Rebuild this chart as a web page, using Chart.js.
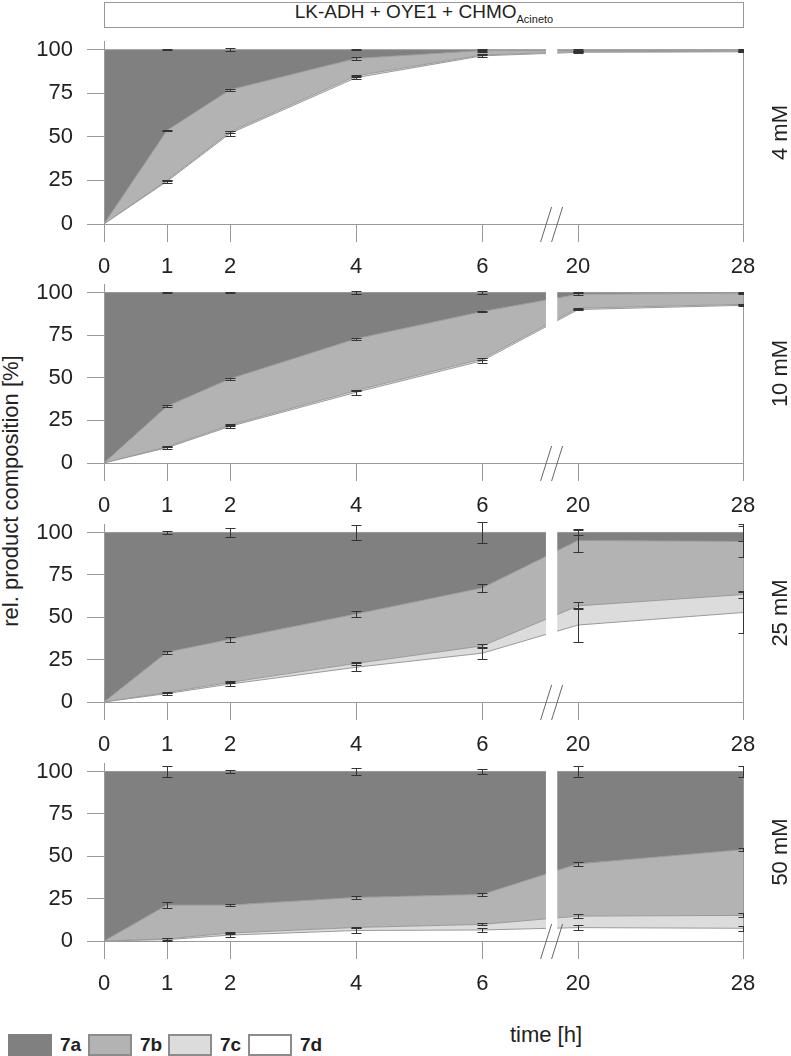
<!DOCTYPE html>
<html>
<head>
<meta charset="utf-8">
<title>LK-ADH + OYE1 + CHMO</title>
<script src="https://cdn.jsdelivr.net/npm/chart.js@4.4.1/dist/chart.umd.min.js"></script>
<style>
body { margin: 0; background: #fff; font-family: "Liberation Sans", Arial, sans-serif; color: #222; }
#wrap { position: relative; width: 791px; height: 1056px; overflow: hidden; }
#wrap canvas { position: absolute; left: 0; }
.titulo { position: absolute; left: 104px; top: 2px; width: 638px; height: 24px; border: 1px solid #999;
  text-align: center; font-size: 19px; line-height: 18px; white-space: nowrap; }
.titulo span { font-size: 11px; position: relative; top: 5px; }
.eixoY { position: absolute; left: 11px; top: 491px; transform: translate(-50%, -50%) rotate(-90deg);
  font-size: 22px; white-space: nowrap; }
.eixoX { position: absolute; left: 546px; top: 1022px; transform: translateX(-50%); font-size: 22px; line-height: 26px; }
.sw { position: absolute; top: 1034px; width: 40px; height: 18px; border: 2px solid #8c8c8c; }
.lg { position: absolute; top: 1034px; font-size: 19px; font-weight: bold; line-height: 22px; }
</style>
</head>
<body>
<div id="wrap">
  <div class="titulo">LK-ADH + OYE1 + CHMO<span>Acineto</span></div>
  <div class="eixoY">rel. product composition [%]</div>
  <div class="eixoX">time [h]</div>
</div>
<script>
// sampling times and labels
var times = [0, 1, 2, 4, 6, 20, 28];
var timeLabels = ['0', '1', '2', '4', '6', '20', '28'];
var yTicks = [0, 25, 50, 75, 100];
var especies = ['7a', '7b', '7c', '7d'];
var concentracoes = ['4 mM', '10 mM', '25 mM', '50 mM'];

// 4 mM  (% of each product)
var a4 = [100, 46.3, 23.0, 5.0, 0.5, 0.5, 0.3];
var b4 = [0, 28.6, 24.2, 10.0, 2.5, 0.7, 0.6];
var c4 = [0, 0.6, 0.8, 1.0, 0.5, 0.3, 0.3];
var d4 = [0, 24.5, 52.0, 84.0, 96.5, 98.5, 98.8];
var a4err = [0, 0.3, 1.0, 0.3, 0.5, 0.5, 0.3];
var b4err = [0, 0.4, 0.6, 1.0, 0.6, 0.3, 0.3];
var c4err = [0, 0.3, 0.4, 0.5, 0.3, 0.2, 0.2];
var d4err = [0, 0.7, 1.5, 1.0, 0.8, 0.4, 0.3];

// 10 mM
var a10 = [100, 66.7, 50.6, 27.1, 11.2, 1.0, 0.4];
var b10 = [0, 23.8, 27.2, 30.4, 27.8, 8.2, 6.5];
var c10 = [0, 0.5, 0.7, 1.0, 1.0, 0.8, 0.6];
var d10 = [0, 9.0, 21.5, 41.5, 60.0, 90.0, 92.5];
var a10err = [0, 0.3, 0.5, 1.0, 0.7, 0.5, 0.4];
var b10err = [0, 0.7, 0.5, 0.5, 0.3, 0.5, 0.4];
var c10err = [0, 0.4, 0.5, 0.5, 0.5, 0.3, 0.3];
var d10err = [0, 0.5, 0.8, 1.5, 1.5, 0.5, 0.5];

// 25 mM
var a25 = [100, 70.6, 63.0, 48.1, 32.7, 4.7, 5.3];
var b25 = [0, 23.8, 25.4, 29.1, 34.2, 38.6, 31.3];
var c25 = [0, 0.6, 1.0, 2.3, 4.3, 11.3, 10.6];
var d25 = [0, 5.0, 10.6, 20.5, 28.8, 45.4, 52.8];
var a25err = [0, 0.7, 2.5, 4.6, 6.0, 1.5, 5.0];
var b25err = [0, 0.8, 1.5, 2.0, 2.3, 6.8, 9.0];
var c25err = [0, 0.4, 0.6, 1.0, 1.0, 2.0, 2.0];
var d25err = [0, 0.6, 1.0, 2.5, 3.5, 10.0, 12.0];

// 50 mM
var a50 = [100, 78.8, 78.8, 74.3, 72.5, 54.5, 46.1];
var b50 = [0, 19.9, 16.5, 17.7, 17.7, 30.8, 38.8];
var c50 = [0, 0.5, 1.2, 1.8, 3.3, 6.8, 7.6];
var d50 = [0, 0.8, 3.5, 6.2, 6.5, 7.9, 7.5];
var a50err = [0, 3.0, 0.7, 1.8, 1.5, 3.0, 3.0];
var b50err = [0, 2.0, 0.7, 0.8, 0.8, 1.0, 0.8];
var c50err = [0, 0.5, 0.5, 0.5, 0.6, 1.0, 1.2];
var d50err = [0, 1.0, 1.2, 1.5, 1.2, 1.5, 1.5];

// fill colours, bottom to top: 7d, 7c, 7b, 7a
var cores = ['#ffffff', '#dcdcdc', '#b3b3b3', '#808080'];

// broken time axis: 0-6 h linear, then 20-28 h squeezed
function pos(t) { return t <= 6 ? t : 7.52 + (t - 20) * 0.327; }
var brkFrom = 7.01, brkTo = 7.19;

var panelTops = [31, 274, 514, 753];
var panelAreaH = [183, 179, 178, 178];

Chart.defaults.font.family = "'Liberation Sans', Arial, sans-serif";
Chart.defaults.font.size = 22;
Chart.defaults.color = '#222';

var quebraPlugin = {
	id: 'quebra',
	afterDatasetsDraw: function(chart) {
		var ctx = chart.ctx, xs = chart.scales.x, area = chart.chartArea;
		var g0 = xs.getPixelForValue(brkFrom), g1 = xs.getPixelForValue(brkTo);
		ctx.save();
		ctx.fillStyle = '#fff';
		ctx.fillRect(g0, area.top - 2, g1 - g0, area.bottom - area.top + 1);
		ctx.restore();
	},
	afterDraw: function(chart, args, opts) {
		var ctx = chart.ctx, xs = chart.scales.x, ys = chart.scales.y, area = chart.chartArea;
		ctx.save();
		// right edge of the polygons
		ctx.strokeStyle = '#999';
		ctx.lineWidth = 1;
		ctx.beginPath();
		ctx.moveTo(Math.round(area.right) + 0.5, ys.getPixelForValue(0));
		ctx.lineTo(Math.round(area.right) + 0.5, ys.getPixelForValue(100));
		ctx.stroke();

		// "//" marks on the time axis
		var g0 = xs.getPixelForValue(brkFrom), g1 = xs.getPixelForValue(brkTo);
		var cx = (g0 + g1) / 2, y0 = area.bottom;
		ctx.strokeStyle = '#666';
		ctx.beginPath();
		ctx.moveTo(cx - 11, y0 + 18); ctx.lineTo(cx, y0 - 17);
		ctx.moveTo(cx, y0 + 18); ctx.lineTo(cx + 11, y0 - 17);
		ctx.stroke();

		// concentration label on the right
		ctx.save();
		ctx.translate(781, (area.top + area.bottom) / 2);
		ctx.rotate(-Math.PI / 2);
		ctx.fillStyle = '#222';
		ctx.font = "22px 'Liberation Sans', Arial, sans-serif";
		ctx.textAlign = 'center';
		ctx.textBaseline = 'middle';
		ctx.fillText(opts.rotulo, 0, 0);
		ctx.restore();

		// error bars on the stacked boundaries
		ctx.beginPath();
		ctx.rect(area.left - 1, 0, area.right - area.left + 2, chart.height);
		ctx.clip();
		ctx.strokeStyle = '#333';
		var acum = times.map(function() { return 0; });
		opts.series.forEach(function(s, k) {
			times.forEach(function(t, j) {
				acum[j] += s[j];
				var e = opts.erros[k][j];
				if (!e) return;
				var x = Math.round(xs.getPixelForValue(pos(t))) + 0.5;
				var yA = Math.round(ys.getPixelForValue(acum[j] - e)) + 0.5;
				var yB = Math.round(ys.getPixelForValue(acum[j] + e)) + 0.5;
				ctx.beginPath();
				ctx.moveTo(x, yA); ctx.lineTo(x, yB);
				ctx.moveTo(x - 5, yA); ctx.lineTo(x + 5, yA);
				ctx.moveTo(x - 5, yB); ctx.lineTo(x + 5, yB);
				ctx.stroke();
			});
		});
		ctx.restore();
	}
};

function criaPainel(idx, rotulo, series, erros) {
	var h = 10 + panelAreaH[idx] + 50;
	var cv = document.createElement('canvas');
	cv.width = 791; cv.height = h;
	cv.style.width = '791px'; cv.style.height = h + 'px';
	cv.style.top = panelTops[idx] + 'px';
	document.getElementById('wrap').appendChild(cv);

	var ds = series.map(function(s, k) {
		return {
			label: especies[3 - k],
			data: times.map(function(t, j) { return {x: pos(t), y: s[j]}; }),
			fill: k === 0 ? 'origin' : '-1',
			backgroundColor: cores[k],
			borderColor: '#999',
			borderWidth: 1,
			pointRadius: 0,
			tension: 0
		};
	});

	new Chart(cv.getContext('2d'), {
		type: 'line',
		data: { datasets: ds },
		options: {
			responsive: false,
			animation: false,
			layout: { padding: { top: 10, right: 48, left: 0, bottom: 0 } },
			plugins: {
				legend: { display: false },
				tooltip: { enabled: false },
				quebra: { rotulo: rotulo, series: series, erros: erros }
			},
			scales: {
				x: {
					type: 'linear', min: 0, max: pos(28),
					afterBuildTicks: function(sc) { sc.ticks = times.map(function(t) { return {value: pos(t)}; }); },
					afterFit: function(sc) { sc.height = 50; sc.paddingLeft = 0; sc.paddingRight = 0; },
					ticks: { autoSkip: false, maxRotation: 0, padding: 12,
						callback: function(v, i) { return timeLabels[i]; } },
					grid: { drawOnChartArea: false, tickLength: 18, color: '#999' },
					border: { color: '#999', z: 1 }
				},
				y: {
					stacked: true, min: 0, max: 105,
					afterBuildTicks: function(sc) { sc.ticks = yTicks.map(function(v) { return {value: v}; }); },
					afterFit: function(sc) { sc.width = 104; sc.paddingTop = 0; sc.paddingBottom = 0; },
					ticks: { padding: 14 },
					grid: { drawOnChartArea: false, tickLength: 17, color: '#999' },
					border: { color: '#999', z: 1 }
				}
			}
		},
		plugins: [quebraPlugin]
	});
}

criaPainel(0, concentracoes[0], [d4, c4, b4, a4], [d4err, c4err, b4err, a4err]);
criaPainel(1, concentracoes[1], [d10, c10, b10, a10], [d10err, c10err, b10err, a10err]);
criaPainel(2, concentracoes[2], [d25, c25, b25, a25], [d25err, c25err, b25err, a25err]);
criaPainel(3, concentracoes[3], [d50, c50, b50, a50], [d50err, c50err, b50err, a50err]);

// legend at the bottom
var wrap = document.getElementById('wrap');
especies.forEach(function(nome, i) {
	var sw = document.createElement('div');
	sw.className = 'sw';
	sw.style.left = (8 + i * 80) + 'px';
	sw.style.background = cores[3 - i];
	if (i === 0) sw.style.borderColor = cores[3];
	wrap.appendChild(sw);
	var lg = document.createElement('div');
	lg.className = 'lg';
	lg.style.left = (60 + i * 80) + 'px';
	lg.textContent = nome;
	wrap.appendChild(lg);
});
</script>
</body>
</html>
